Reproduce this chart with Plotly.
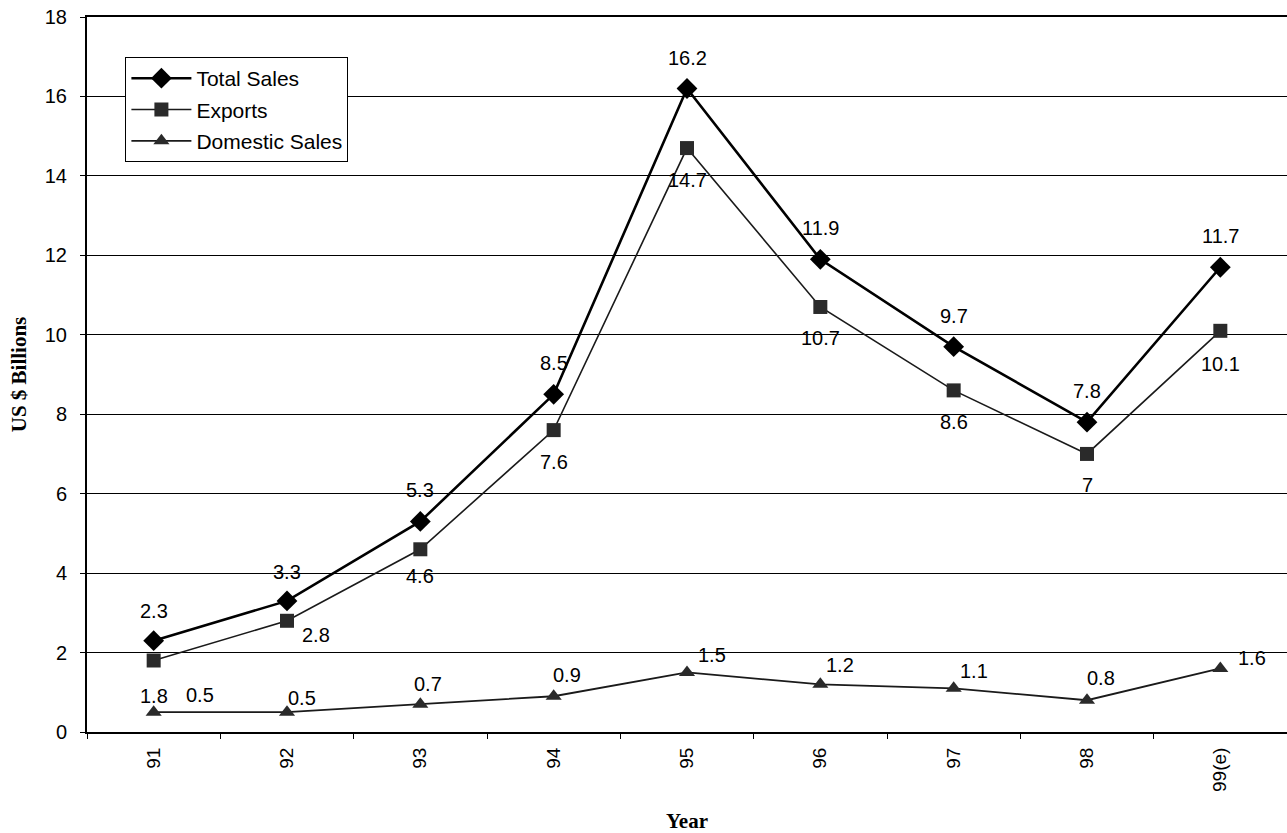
import plotly.graph_objects as go

years = ["91", "92", "93", "94", "95", "96", "97", "98", "99(e)"]
total_sales = [2.3, 3.3, 5.3, 8.5, 16.2, 11.9, 9.7, 7.8, 11.7]
exports = [1.8, 2.8, 4.6, 7.6, 14.7, 10.7, 8.6, 7.0, 10.1]
domestic_sales = [0.5, 0.5, 0.7, 0.9, 1.5, 1.2, 1.1, 0.8, 1.6]

# label placement offsets in pixels (xshift, yshift)
total_offsets = [(0, 30), (0, 29), (0, 31), (0, 31), (0, 31), (0, 31), (0, 31), (0, 31), (0, 31)]
export_offsets = [(0, -35), (29, -14), (0, -27), (0, -32), (0, -32), (0, -31), (0, -32), (0, -31), (0, -33)]
domestic_offsets = [(46, 17), (15, 14), (8, 20), (13, 21), (25, 17), (20, 19), (20, 17), (14, 22), (32, 10)]

SANS = "Liberation Sans, Arial, sans-serif"
SERIF = "Liberation Serif, Times New Roman, serif"

fig = go.Figure()
fig.add_trace(go.Scatter(
    x=years, y=total_sales, name="Total Sales", mode="lines+markers",
    legendgroup="total",
    line=dict(color="black", width=2.6),
    marker=dict(symbol="diamond", size=16, color="black"),
))
fig.add_trace(go.Scatter(
    x=years, y=exports, name="Exports", mode="lines+markers",
    legendgroup="exports",
    line=dict(color="#1a1a1a", width=1.6),
    marker=dict(symbol="square", size=14, color="#2a2a2a"),
))
fig.add_trace(go.Scatter(
    x=years, y=domestic_sales, name="Domestic Sales", mode="lines+markers",
    legendgroup="domestic",
    line=dict(color="#1a1a1a", width=1.8),
    marker=dict(symbol="triangle-up", size=14, color="#2a2a2a"),
))

# value labels, positioned by category index on the x axis
annotations = []
for values, offsets in ((total_sales, total_offsets),
                        (exports, export_offsets),
                        (domestic_sales, domestic_offsets)):
    for i, (v, (dx, dy)) in enumerate(zip(values, offsets)):
        annotations.append(dict(
            x=i, y=v, xref="x", yref="y", text=f"{v:g}", showarrow=False,
            xshift=dx, yshift=dy,
            font=dict(family=SANS, size=20, color="black"),
        ))

fig.update_layout(
    width=1287, height=833,
    margin=dict(l=87, r=0, t=17, b=101),
    paper_bgcolor="white", plot_bgcolor="white",
    font=dict(family=SANS, size=19, color="black"),
    annotations=annotations,
    legend=dict(
        x=0.032, y=0.944, xanchor="left", yanchor="top",
        bordercolor="black", borderwidth=1, bgcolor="white",
        font=dict(family=SANS, size=21, color="black"),
        itemwidth=60, tracegroupgap=1,
    ),
    xaxis=dict(
        type="category", range=[-0.5, 8.5],
        tickangle=-90, tickson="boundaries", ticks="outside", ticklen=5,
        tickcolor="black", showline=True, linecolor="black", linewidth=2,
        mirror=True, showgrid=False, zeroline=False,
        ticklabelstandoff=6,
        tickfont=dict(family=SANS, size=19),
        title=dict(text="<b>Year</b>", font=dict(family=SERIF, size=21), standoff=24),
    ),
    yaxis=dict(
        range=[0, 18], dtick=2, ticks="outside", ticklen=5, tickcolor="black",
        showline=True, linecolor="black", linewidth=2,
        showgrid=True, gridcolor="black", gridwidth=1, zeroline=False,
        ticklabelstandoff=9,
        tickfont=dict(family=SANS, size=20),
        title=dict(text="<b>US $ Billions</b>", font=dict(family=SERIF, size=21), standoff=12),
    ),
)

fig.write_html("out.html")
